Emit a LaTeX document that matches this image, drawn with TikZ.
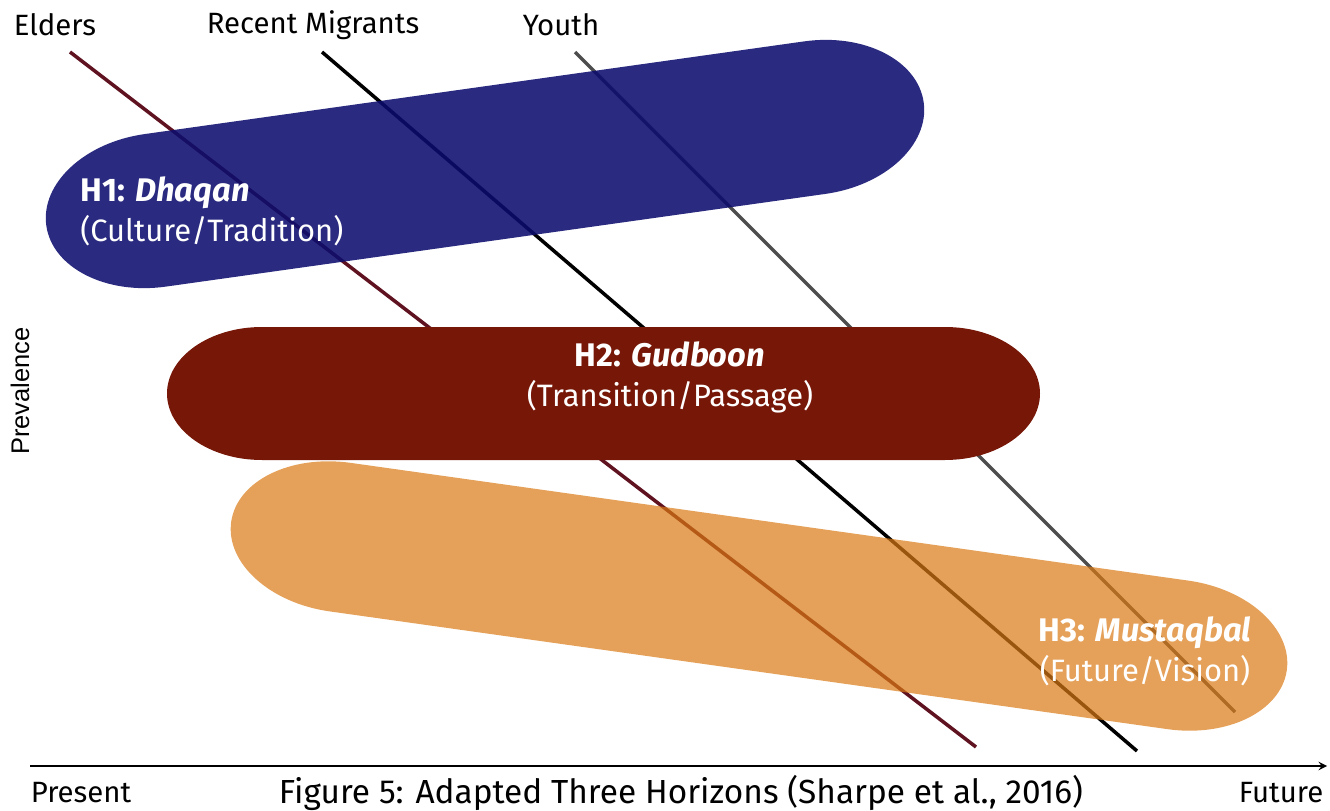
\documentclass[tikz,border=0pt]{standalone}
\usepackage{fontspec}
\setmainfont{Fira Sans}
\newfontfamily\axisfont{Liberation Sans}
\usepackage{tikz}

\definecolor{hblue}{RGB}{12,13,110}
\definecolor{hred}{RGB}{118,23,8}
\definecolor{horange}{RGB}{218,121,19}
\definecolor{elderline}{RGB}{95,18,32}
\definecolor{youthline}{RGB}{77,77,77}

% stadium with elliptic caps: half straight length, cap radius, half height
\newcommand{\capsule}[3]{(-#1,-#3) -- (#1,-#3)
  .. controls ({#1+0.552*#2},-#3) and ({#1+#2},{-0.552*#3}) .. ({#1+#2},0)
  .. controls ({#1+#2},{0.552*#3}) and ({#1+0.552*#2},#3) .. (#1,#3)
  -- (-#1,#3)
  .. controls ({-#1-0.552*#2},#3) and ({-#1-#2},{0.552*#3}) .. ({-#1-#2},0)
  .. controls ({-#1-#2},{-0.552*#3}) and ({-#1-0.552*#2},-#3) .. cycle}
\newcommand{\hhead}[1]{{\fontsize{18.6}{22.7}\selectfont\bfseries #1}}

\tikzset{
  group/.style={line width=2pt},
  toplabel/.style={inner sep=0pt, font=\fontsize{16.7}{20}\selectfont},
  hlabel/.style={inner sep=0pt, text=white, font=\fontsize{17.6}{22.7}\selectfont},
}

\begin{document}
\begin{tikzpicture}[x=0.02cm, y=-0.02cm, >=stealth]
  \useasboundingbox (0,0) rectangle (1330,811);
  % groups
  \coordinate (E1) at (70,52);
  \coordinate (E2) at (976,747);
  \coordinate (M1) at (322,52);
  \coordinate (M2) at (1137,751);
  \coordinate (Y1) at (575,52);
  \coordinate (Y2) at (1235,712);
  \draw[group, elderline] (E1) -- (E2);
  \draw[group, black] (M1) -- (M2);
  \draw[group, youthline] (Y1) -- (Y2);
  \node[toplabel] (elders) at (55,25) {Elders};
  \node[toplabel] (migrants) at (313,25) {Recent Migrants};
  \node[toplabel] (youth) at (561,25) {Youth};
  % horizons
  \begin{scope}[shift={(485,164)}, rotate=8]
    \fill[hblue, opacity=0.88] \capsule{333}{110}{77};
  \end{scope}
  \begin{scope}[shift={(603.5,393.5)}]
    \fill[hred] \capsule{341.5}{95}{66.5};
  \end{scope}
  \begin{scope}[shift={(759,596)}, rotate=-8]
    \fill[horange, opacity=0.7] \capsule{423}{110}{75};
  \end{scope}
  \node[hlabel, anchor=west, align=left] (h1) at (80,211)
    {\hhead{H1: \textit{Dhaqan}}\\(Culture/Tradition)};
  \node[hlabel, align=center] (h2) at (670,377)
    {\hhead{H2: \textit{Gudboon}}\\(Transition/Passage)};
  \node[hlabel, align=center] (h3) at (1145,651)
    {\hhead{H3: \textit{Mustaqbal}}\\(Future/Vision)};
  % axes
  \coordinate (T0) at (30,766);
  \coordinate (T1) at (1327,766);
  \draw[->, line width=1.1pt] (T0) -- (T1);
  \node[inner sep=0pt, rotate=90, font=\axisfont\fontsize{14.5}{16}\selectfont] (prev) at (20,391) {Prevalence};
  \node[toplabel] (present) at (81,793) {Present};
  \node[toplabel] (future) at (1281,793) {Future};
  \node[inner sep=0pt, font=\fontsize{19}{23}\selectfont] (caption) at (681,793)
    {Figure 5: Adapted Three Horizons (Sharpe et al., 2016)};
\end{tikzpicture}
\end{document}
